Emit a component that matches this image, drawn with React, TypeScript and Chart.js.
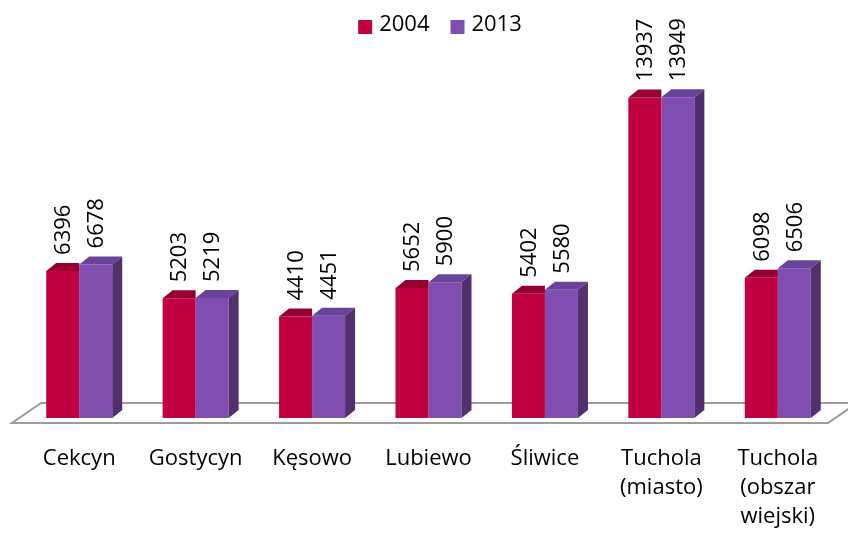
import React, { useEffect, useRef } from "react";
import { Chart, registerables } from "chart.js";

Chart.register(...registerables);

const categories: string[][] = [
  ["Cekcyn"],
  ["Gostycyn"],
  ["Kęsowo"],
  ["Lubiewo"],
  ["Śliwice"],
  ["Tuchola", "(miasto)"],
  ["Tuchola", "(obszar", "wiejski)"],
];
const seriesNames = ["2004", "2013"];
const values2004 = [6396, 5203, 4410, 5652, 5402, 13937, 6098];
const values2013 = [6678, 5219, 4451, 5900, 5580, 13949, 6506];

const frontColors = ["#C00040", "#804EB0"];
const topColors = ["#95002F", "#69439A"];
const sideColors = ["#7A0028", "#52306F"];

const FONT = "'Open Sans', 'DejaVu Sans', sans-serif";
const DX = 10;
const DY = 8;

const bars3d = {
  id: "bars3d",
  beforeDatasetsDraw(chart: any) {
    const { ctx, chartArea } = chart;
    const b = chartArea.bottom;
    const backY = b - 15;
    const frontY = b + 5;
    const lf = chartArea.left - 9;
    const lb = chartArea.left + 20;
    const rf = chartArea.right - 8;
    const rb = chartArea.right + 21;
    ctx.save();
    ctx.beginPath();
    ctx.moveTo(lb, backY);
    ctx.lineTo(rb, backY);
    ctx.lineTo(rf, frontY);
    ctx.lineTo(lf, frontY);
    ctx.closePath();
    ctx.fillStyle = "#ffffff";
    ctx.fill();
    ctx.strokeStyle = "#9c9c9c";
    ctx.lineWidth = 2;
    ctx.stroke();
    ctx.restore();
  },
  afterDatasetsDraw(chart: any) {
    const ctx = chart.ctx;
    const n = chart.data.datasets.length;
    ctx.save();
    chart.data.datasets.forEach((ds: any, di: number) => {
      const meta = chart.getDatasetMeta(di);
      const last = di === n - 1;
      meta.data.forEach((el: any) => {
        const { x, y, base, width } = el.getProps(["x", "y", "base", "width"], true);
        const L = x - width / 2;
        const R = x + width / 2;
        ctx.beginPath();
        ctx.moveTo(L, y);
        ctx.lineTo(L + DX, y - DY);
        ctx.lineTo(last ? R + DX : R, y - DY);
        ctx.lineTo(R, y);
        ctx.closePath();
        ctx.fillStyle = topColors[di];
        ctx.fill();
        if (last) {
          ctx.beginPath();
          ctx.moveTo(R, y);
          ctx.lineTo(R + DX, y - DY);
          ctx.lineTo(R + DX, base - DY);
          ctx.lineTo(R, base);
          ctx.closePath();
          ctx.fillStyle = sideColors[di];
          ctx.fill();
        }
      });
    });
    ctx.restore();
  },
  afterDraw(chart: any) {
    const ctx = chart.ctx;
    ctx.save();
    // value labels
    ctx.fillStyle = "#000000";
    ctx.font = `22px ${FONT}`;
    chart.data.datasets.forEach((ds: any, di: number) => {
      const meta = chart.getDatasetMeta(di);
      meta.data.forEach((el: any, i: number) => {
        const { x, y } = el.getProps(["x", "y"], true);
        ctx.save();
        ctx.translate(x + 1, y - 16);
        ctx.rotate(-Math.PI / 2);
        ctx.textAlign = "left";
        ctx.textBaseline = "middle";
        ctx.fillText(String(ds.data[i]), 0, 0);
        ctx.restore();
      });
    });
    // legend
    ctx.font = `22px ${FONT}`;
    const box = 14;
    const gapBoxText = 7;
    const gapItems = 21;
    const widths = chart.data.datasets.map(
      (ds: any) => box + gapBoxText + ctx.measureText(ds.label).width
    );
    const total = widths.reduce((a: number, w: number) => a + w, 0) + gapItems * (widths.length - 1);
    let cx = chart.width / 2 + 16 - total / 2;
    const cy = 25;
    chart.data.datasets.forEach((ds: any, di: number) => {
      ctx.fillStyle = frontColors[di];
      ctx.fillRect(cx, cy - box / 2 + 2, box, box);
      ctx.fillStyle = "#000000";
      ctx.textAlign = "left";
      ctx.textBaseline = "middle";
      ctx.fillText(ds.label, cx + box + gapBoxText, cy);
      cx += widths[di] + gapItems;
    });
    ctx.restore();
  },
};

export default function App() {
  const ref = useRef<HTMLCanvasElement | null>(null);
  useEffect(() => {
    if (!ref.current) return;
    const chart = new Chart(ref.current, {
      type: "bar",
      data: {
        labels: categories,
        datasets: [
          { label: seriesNames[0], data: values2004, backgroundColor: frontColors[0], borderWidth: 0 },
          { label: seriesNames[1], data: values2013, backgroundColor: frontColors[1], borderWidth: 0 },
        ],
      },
      options: {
        animation: false,
        responsive: false,
        devicePixelRatio: 1,
        layout: { padding: { top: 50, left: 21, right: 12, bottom: 3 } },
        plugins: {
          legend: { display: false },
          tooltip: { enabled: false },
        },
        datasets: {
          bar: { barPercentage: 1, categoryPercentage: 0.567 },
        },
        scales: {
          x: {
            grid: { display: false, drawTicks: false },
            border: { display: false },
            afterFit: (scale: any) => {
              scale.height = 113;
            },
            ticks: {
              color: "#000000",
              padding: 26,
              maxRotation: 0,
              autoSkip: false,
              font: { family: FONT, size: 22, lineHeight: 1.32 },
            },
          },
          y: {
            display: false,
            min: 0,
            max: 16000,
          },
        },
      },
      plugins: [bars3d],
    });
    return () => chart.destroy();
  }, []);
  return (
    <div style={{ position: "absolute", left: 0, top: 0, width: 848, height: 534, background: "#fff" }}>
      <canvas ref={ref} width={848} height={534} style={{ width: 848, height: 534, display: "block" }} />
    </div>
  );
}
